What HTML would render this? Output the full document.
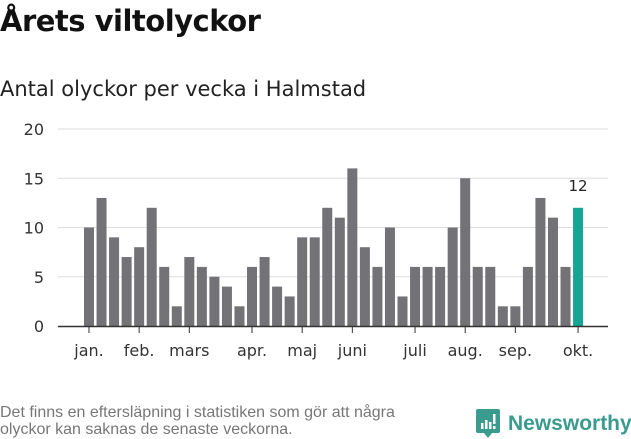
<!DOCTYPE html>
<html><head><meta charset="utf-8"><style>
body{margin:0;width:631px;height:439px;background:#fff;font-family:"DejaVu Sans","Liberation Sans",sans-serif;overflow:hidden;position:relative}
h1{position:absolute;left:0;top:4px;margin:0;font-size:29px;font-weight:bold;color:#111;letter-spacing:-0.5px}
h2{position:absolute;left:0;top:77px;margin:0;font-size:21px;font-weight:normal;color:#222}
.note{position:absolute;left:0;top:404px;font-family:"Liberation Sans",sans-serif;font-size:16px;color:#777;line-height:17px}
.logo{position:absolute;left:476px;top:409px;display:flex;align-items:center;font-family:"Liberation Sans",sans-serif;font-size:21px;color:#3a9c8f;font-weight:bold}
</style></head><body>
<h1>Årets viltolyckor</h1>
<h2>Antal olyckor per vecka i Halmstad</h2>
<svg id="c" width="631" height="439" style="position:absolute;left:0;top:0"></svg>
<div class="note">Det finns en eftersläpning i statistiken som gör att några<br>olyckor kan saknas de senaste veckorna.</div>
<div class="logo"><svg width="24" height="30" viewBox="0 0 24 30"><path d="M2 0h20a2 2 0 0 1 2 2v20a2 2 0 0 1-2 2h-6l-4 5-4-5H2a2 2 0 0 1-2-2V2a2 2 0 0 1 2-2z" fill="#3a9c8f"/><rect x="5" y="14" width="2.5" height="6" fill="#fff"/><rect x="9" y="11" width="2.5" height="9" fill="#fff"/><rect x="13" y="13" width="2.5" height="7" fill="#fff"/><rect x="17" y="5" width="2.5" height="10" fill="#fff"/><rect x="17" y="17" width="2.5" height="3" fill="#fff"/></svg><span style="margin-left:8px">Newsworthy</span></div>
<script>
const values=[10,13,9,7,8,12,6,2,7,6,5,4,2,6,7,4,3,9,9,12,11,16,8,6,10,3,6,6,6,10,15,6,6,2,2,6,13,11,6,12];
const monthLabels=["jan.","feb.","mars","apr.","maj","juni","juli","aug.","sep.","okt."];
const monthIndex=[0,4,8,13,17,21,26,30,34,39];
const yTicks=[0,5,10,15,20];
const svg=document.getElementById('c');const NS="http://www.w3.org/2000/svg";
const x=i=>89+i*12.54, y=v=>326-v*9.85;
function el(t,a,txt){const e=document.createElementNS(NS,t);for(const k in a)e.setAttribute(k,a[k]);if(txt!==undefined)e.textContent=txt;svg.appendChild(e);return e;}
yTicks.forEach(t=>{
 if(t>0){const g=el('line',{x1:58,x2:608,y1:y(t),y2:y(t),stroke:'#ddd'});
 
 }
 const l=el('text',{x:44,y:y(t)+6,'text-anchor':'end','font-size':16,fill:'#333','font-family':'DejaVu Sans,sans-serif'},t);
 
 
});
values.forEach((v,i)=>{
 const last=i===values.length-1;
 const r=el('rect',{x:x(i)-5,y:y(v),width:10,height:y(0)-y(v),fill:last?'#14a595':'#737277'});
 
 
 if(last){const t=el('text',{x:x(i),y:y(v)-17,'text-anchor':'middle','font-size':15,fill:'#222','font-family':'DejaVu Sans,sans-serif'},v);
 
 }
});
const ax=el('line',{x1:58,x2:608,y1:326.5,y2:326.5,stroke:'#333','stroke-width':1.5});


monthLabels.forEach((m,k)=>{
 const xi=x(monthIndex[k]);
 const tk=el('line',{x1:xi,x2:xi,y1:327,y2:333,stroke:'#333'});
 
 
 const t=el('text',{x:xi,y:356,'text-anchor':'middle','font-size':16,fill:'#333','font-family':'DejaVu Sans,sans-serif'},m);
 
 
});
</script>
</body></html>
